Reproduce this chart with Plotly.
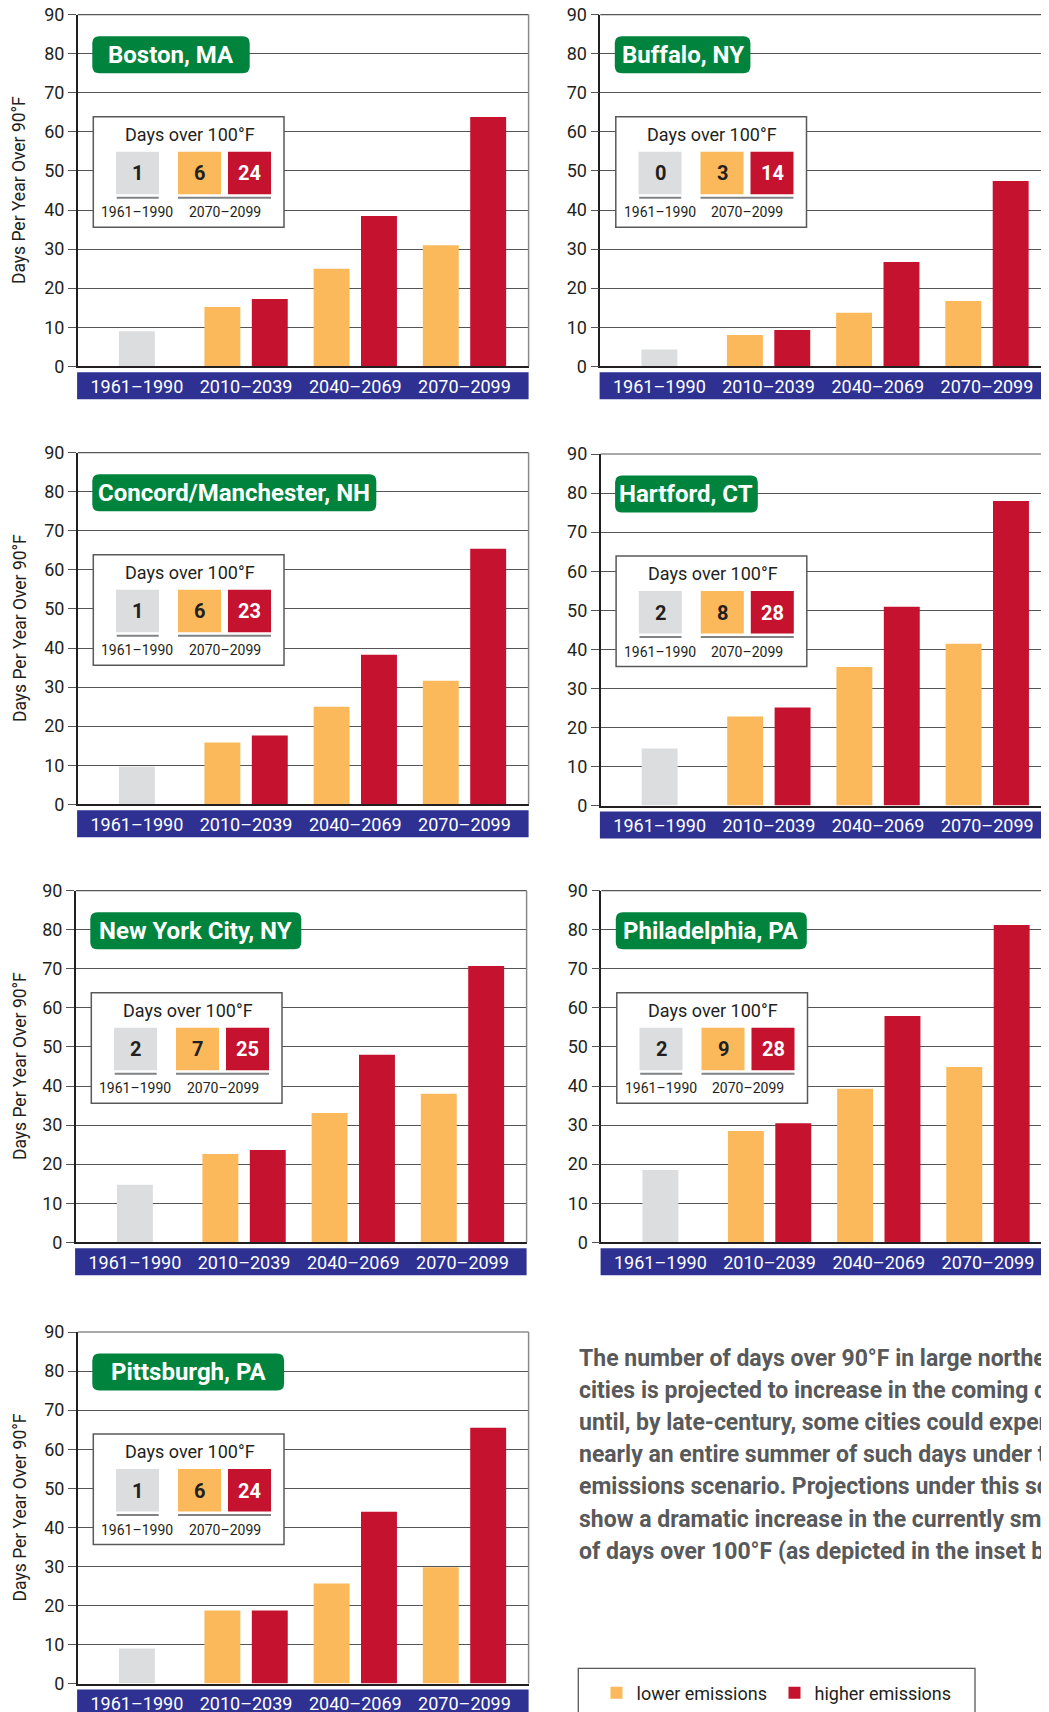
import plotly.graph_objects as go

# ---------------- data ----------------
periods = ["1961–1990", "2010–2039", "2040–2069", "2070–2099"]
cities = ["Boston, MA", "Buffalo, NY", "Concord/Manchester, NH", "Hartford, CT",
          "New York City, NY", "Philadelphia, PA", "Pittsburgh, PA"]

# days per year over 90°F
hist_over_90 = [9.0, 4.3, 9.7, 14.6, 14.7, 18.5, 9.0]
lower_over_90 = [[15.2, 25.0, 31.0], [8.0, 13.7, 16.7], [15.8, 25.0, 31.6], [22.8, 35.5, 41.4],
                 [22.6, 33.1, 38.0], [28.5, 39.3, 44.9], [18.7, 25.6, 29.8]]
higher_over_90 = [[17.2, 38.5, 63.8], [9.3, 26.7, 47.4], [17.6, 38.3, 65.4], [25.1, 50.9, 78.0],
                  [23.6, 48.0, 70.7], [30.5, 57.9, 81.2], [18.7, 44.0, 65.5]]

# days per year over 100°F (inset boxes)
hist_over_100 = [1, 0, 1, 2, 2, 2, 1]
lower_over_100 = [6, 3, 6, 8, 7, 9, 6]
higher_over_100 = [24, 14, 23, 28, 25, 28, 24]

y_tick_values = [0, 10, 20, 30, 40, 50, 60, 70, 80, 90]
y_title = "Days Per Year Over 90°F"
inset_title = "Days over 100°F"
inset_labels = ["1961–1990", "2070–2099"]
series_names = ["lower emissions", "higher emissions"]
caption_lines = [
    "The number of days over 90°F in large northeastern",
    "cities is projected to increase in the coming decades",
    "until, by late-century, some cities could experience",
    "nearly an entire summer of such days under the higher-",
    "emissions scenario. Projections under this scenario also",
    "show a dramatic increase in the currently small number",
    "of days over 100°F (as depicted in the inset boxes).",
]

# ---------------- style ----------------
W, H = 1049, 1712
OFF = 8  # page body margin: the figure is drawn 8px right/down of the window corner
C_GRAY = "#dcddde"
C_ORANGE = "#fbb95b"
C_RED = "#c4122f"
C_GREEN = "#00843d"
C_BLUE = "#2e3192"
C_TEXT = "#231f20"
C_GRID = "#555555"
C_PARA = "#58595b"

F = "Roboto, sans-serif"

panel_left = [77.8, 600.3, 77.8, 600.6, 75.8, 601.3, 77.8]
panel_top = [14.7, 14.7, 452.7, 454.0, 890.7, 890.7, 1332.0]
title_box_w = [157.4, 135.6, 284.0, 142.7, 211.0, 191.0, 191.8]
PLOT_H = 351.6
PLOT_W = 450.8
PX_PER_CAT = 109.2
X_START = -0.541
BAR_W = 0.329
PAIR_SEP = 0.217


def px(x):
    return (x - OFF) / W


def py(y):
    return 1 - (y - OFF) / H


def rrect_path(x0, y0, x1, y1, r):
    pts = [
        f"M{px(x0 + r)},{py(y0)}",
        f"L{px(x1 - r)},{py(y0)}",
        f"Q{px(x1)},{py(y0)} {px(x1)},{py(y0 + r)}",
        f"L{px(x1)},{py(y1 - r)}",
        f"Q{px(x1)},{py(y1)} {px(x1 - r)},{py(y1)}",
        f"L{px(x0 + r)},{py(y1)}",
        f"Q{px(x0)},{py(y1)} {px(x0)},{py(y1 - r)}",
        f"L{px(x0)},{py(y0 + r)}",
        f"Q{px(x0)},{py(y0)} {px(x0 + r)},{py(y0)}",
        "Z",
    ]
    return " ".join(pts)


fig = go.Figure()
shapes = []
annotations = []
layout_axes = {}

for i, city in enumerate(cities):
    n = i + 1
    suf = "" if n == 1 else str(n)
    L = panel_left[i]
    T = panel_top[i]
    B = T + PLOT_H
    left_col = (i % 2 == 0)
    R = L + PLOT_W if left_col else W + OFF
    x_end = X_START + (R - L) / PX_PER_CAT

    fig.add_trace(go.Bar(
        x=[periods[0]], y=[hist_over_90[i]], xaxis="x" + suf, yaxis="y" + suf,
        marker=dict(color=C_GRAY, line=dict(width=0)), width=BAR_W, offset=-BAR_W / 2,
        showlegend=False, hoverinfo="skip"))
    fig.add_trace(go.Bar(
        x=periods[1:], y=lower_over_90[i], xaxis="x" + suf, yaxis="y" + suf,
        marker=dict(color=C_ORANGE, line=dict(width=0)), width=BAR_W,
        offset=-PAIR_SEP - BAR_W / 2, name=series_names[0], legendgroup="lower",
        showlegend=(i == 0), hoverinfo="skip"))
    fig.add_trace(go.Bar(
        x=periods[1:], y=higher_over_90[i], xaxis="x" + suf, yaxis="y" + suf,
        marker=dict(color=C_RED, line=dict(width=0)), width=BAR_W,
        offset=PAIR_SEP - BAR_W / 2, name=series_names[1], legendgroup="higher",
        showlegend=(i == 0), hoverinfo="skip"))

    layout_axes["xaxis" + suf] = dict(
        domain=[px(L), min(px(R), 1.0)], anchor="y" + suf, type="category",
        categoryorder="array", categoryarray=periods, range=[X_START, x_end],
        showgrid=False, zeroline=False, showline=True, linecolor=C_TEXT, linewidth=1.5,
        ticks="", tickangle=0, automargin=False, ticklabeloverflow="allow",
        tickfont=dict(family=F, size=18, color="white"),
        ticklabelstandoff=3, fixedrange=True)
    layout_axes["yaxis" + suf] = dict(
        domain=[py(B), py(T)], anchor="x" + suf, range=[0, 90],
        tickmode="array", tickvals=y_tick_values, automargin=False,
        ticklabeloverflow="allow",
        showgrid=True, gridcolor=C_GRID, gridwidth=1.2, zeroline=False,
        showline=True, linecolor=C_TEXT, linewidth=1.5,
        ticks="outside", ticklen=8, tickwidth=1.2, tickcolor=C_GRID,
        tickfont=dict(family=F, size=18, color=C_TEXT),
        ticklabelstandoff=0, fixedrange=True)

    # blue category band
    shapes.append(dict(type="rect", xref="paper", yref="paper", layer="below",
                       x0=px(L - 0.7), x1=px(R), y0=py(B + 6), y1=py(B + 33),
                       fillcolor=C_BLUE, line=dict(width=0)))
    # top frame line and right border of frame
    shapes.append(dict(type="line", xref="paper", yref="paper",
                       x0=px(L), x1=px(R), y0=py(T), y1=py(T),
                       line=dict(color=C_GRID, width=1.2)))
    if left_col:
        shapes.append(dict(type="line", xref="paper", yref="paper",
                           x0=px(R), x1=px(R), y0=py(T), y1=py(B),
                           line=dict(color="#8a8a8a", width=1.5)))
    # green city title box
    tx0 = L + 14.5
    tx1 = tx0 + title_box_w[i]
    tcy = T + 40
    shapes.append(dict(type="path", xref="paper", yref="paper",
                       path=rrect_path(tx0, tcy - 18.5, tx1, tcy + 18.5, 7),
                       fillcolor=C_GREEN, line=dict(width=0)))
    annotations.append(dict(xref="paper", yref="paper", x=px((tx0 + tx1) / 2), y=py(tcy),
                            xanchor="center", yanchor="middle", showarrow=False,
                            text="<b>" + city + "</b>",
                            font=dict(family=F, size=24, color="white")))

    # inset box
    shapes.append(dict(type="rect", xref="paper", yref="paper",
                       x0=px(L + 15.5), x1=px(L + 206.2), y0=py(T + 102), y1=py(T + 212.6),
                       fillcolor="white", line=dict(color="#58595b", width=1.5)))
    annotations.append(dict(xref="paper", yref="paper", x=px(L + 112), y=py(T + 119.5),
                            xanchor="center", yanchor="middle", showarrow=False,
                            text=inset_title,
                            font=dict(family=F, size=18, color=C_TEXT)))
    sq = [(38.2, 81.2, C_GRAY, hist_over_100[i], C_TEXT),
          (100.2, 143.2, C_ORANGE, lower_over_100[i], C_TEXT),
          (150.2, 193.2, C_RED, higher_over_100[i], "white")]
    for (a, b, col, val, tcol) in sq:
        shapes.append(dict(type="rect", xref="paper", yref="paper",
                           x0=px(L + a), x1=px(L + b), y0=py(T + 137), y1=py(T + 179.6),
                           fillcolor=col, line=dict(width=0)))
        annotations.append(dict(xref="paper", yref="paper", x=px(L + (a + b) / 2),
                                y=py(T + 158.5), xanchor="center", yanchor="middle",
                                showarrow=False, text="<b>" + str(val) + "</b>",
                                font=dict(family=F, size=20, color=tcol)))
    for (a, b) in [(38.9, 80.9), (100.2, 193.2)]:
        shapes.append(dict(type="line", xref="paper", yref="paper",
                           x0=px(L + a), x1=px(L + b), y0=py(T + 183), y1=py(T + 183),
                           line=dict(color="#808285", width=2)))
    for lab, cx in zip(inset_labels, [59.6, 146.7]):
        annotations.append(dict(xref="paper", yref="paper", x=px(L + cx), y=py(T + 197.6),
                                xanchor="center", yanchor="middle", showarrow=False,
                                text=lab, font=dict(family=F, size=14, color=C_TEXT)))

    # y axis title (left column only)
    if left_col:
        annotations.append(dict(xref="paper", yref="paper", x=px(19.6), y=py((T + B) / 2),
                                xanchor="center", yanchor="middle", showarrow=False,
                                textangle=-90, text=y_title,
                                font=dict(family=F, size=17.5, color=C_TEXT)))

# caption paragraph
for k, line in enumerate(caption_lines):
    annotations.append(dict(xref="paper", yref="paper", x=px(576.5), y=py(1358.7 + 32.06 * k),
                            xanchor="left", yanchor="middle", showarrow=False,
                            text="<b>" + line + "</b>",
                            font=dict(family=F, size=23, color=C_PARA)))

# legend frame
shapes.append(dict(type="rect", xref="paper", yref="paper",
                   x0=px(578.3), x1=px(975), y0=py(1668.3), y1=py(1740),
                   fillcolor="rgba(0,0,0,0)", line=dict(color="#58595b", width=1.3)))

fig.update_layout(
    width=W, height=H, margin=dict(l=0, r=0, t=0, b=0, autoexpand=False),
    paper_bgcolor="white", plot_bgcolor="white",
    barmode="overlay", hovermode=False,
    showlegend=True,
    legend=dict(orientation="h", x=px(596.5), xanchor="left", y=py(1693), yanchor="middle",
                bgcolor="rgba(0,0,0,0)", borderwidth=0,
                entrywidth=133, entrywidthmode="pixels",
                font=dict(family=F, size=18, color=C_TEXT),
                itemclick=False, itemdoubleclick=False),
    shapes=shapes, annotations=annotations,
    **layout_axes,
)

fig.write_html("out.html")
